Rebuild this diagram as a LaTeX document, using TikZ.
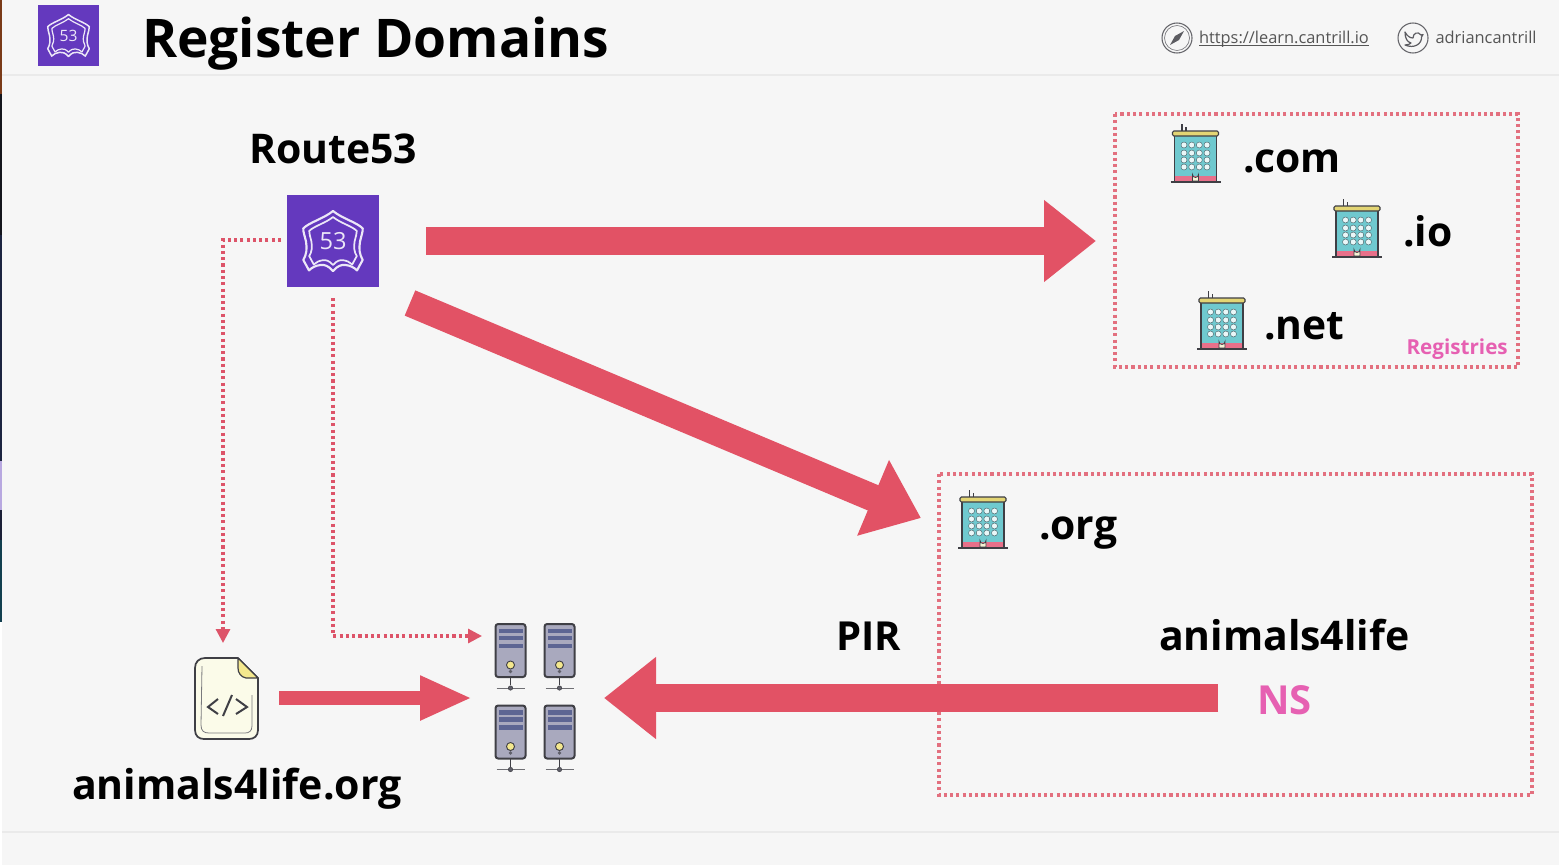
\documentclass[tikz,border=0pt]{standalone}
\usepackage{fontspec}
\setmainfont{Open Sans}
\usetikzlibrary{arrows.meta}
\definecolor{pagebg}{HTML}{F6F6F6}
\definecolor{rulec}{HTML}{EAEAEA}
\definecolor{awspurple}{HTML}{6439BE}
\definecolor{flow}{HTML}{E25265}
\definecolor{dots}{HTML}{DD5469}
\definecolor{boxdots}{HTML}{E3707F}
\definecolor{pinktext}{HTML}{E660B2}
\definecolor{ink}{HTML}{3F3F45}
\definecolor{tealb}{HTML}{6FC9CF}
\definecolor{roofc}{HTML}{E3D574}
\definecolor{bandc}{HTML}{E8708A}
\definecolor{srv}{HTML}{A9A9BE}
\definecolor{slotc}{HTML}{5D6593}
\definecolor{paper}{HTML}{FBFBE9}
\definecolor{foldc}{HTML}{F4E88E}
\definecolor{greytext}{HTML}{555555}
\definecolor{stripa}{HTML}{7A3A18}
\definecolor{stripb}{HTML}{14151C}
\definecolor{stripc}{HTML}{1C2440}
\definecolor{stripd}{HTML}{B8A8E0}
\definecolor{stripe}{HTML}{1B1F36}
\definecolor{stripf}{HTML}{123F4F}
\tikzset{
  lab/.style={anchor=base west,inner sep=0pt,outer sep=0pt,font=\fontsize{#1}{#1}\selectfont\bfseries,text=black},
  lab/.default=30,
  thin text/.style={anchor=base west,inner sep=0pt,outer sep=0pt,font=\fontsize{12.3}{12.3}\selectfont,text=greytext},
  bigflow/.style={draw=flow,line width=20.5pt,-{Triangle[length=39pt,width=59pt]}},
  smallflow/.style={draw=flow,line width=11pt,-{Triangle[length=39pt,width=31pt]}},
  dotline/.style={draw=dots,line width=2.3pt,dash pattern=on 2.3pt off 2.4pt},
  boxline/.style={draw=boxdots,line width=2.3pt,dash pattern=on 2.3pt off 2.4pt},
  dotflow/.style={dotline,-{Triangle[length=10.5pt,width=10.5pt,sep=0pt]}},
  regionbox/.style={inner sep=0pt,outer sep=0pt,anchor=north west},
  awsbox/.style={fill=awspurple,inner sep=0pt,outer sep=0pt,anchor=north west},
  bldg/.style={draw=ink,line width=0.9pt},
}
\newcommand{\ShieldIcon}[4]{%
 \begin{scope}[shift={(#1,#2)},x={#3*0.75pt},y={-#3*0.75pt}]
  \foreach \k/\w in {1/1.6,0.8/1.3}{
  \draw[white!88!awspurple,line width={\w*#3/30*1pt},line join=round,scale=\k]
   (0,1) .. controls (-.15,.82) and (-.3,.78) .. (-.42,.8)
   .. controls (-.58,.82) and (-.7,.88) .. (-.8,.98)
   -- (-.99,.63) .. controls (-.88,.45) and (-.86,.25) .. (-.9,.02)
   .. controls (-.95,-.2) and (-1,-.32) .. (-.99,-.42)
   .. controls (-.8,-.62) and (-.3,-.75) .. (0,-1)
   .. controls (.3,-.75) and (.8,-.62) .. (.99,-.42)
   .. controls (1,-.32) and (.95,-.2) .. (.9,.02)
   .. controls (.86,.25) and (.88,.45) .. (.99,.63)
   -- (.8,.98) .. controls (.7,.88) and (.58,.82) .. (.42,.8)
   .. controls (.3,.78) and (.15,.82) .. (0,1) -- cycle;}
  \node[text=white!88!awspurple,inner sep=0pt,font=\fontsize{#4}{#4}\selectfont] at (0,0) {53};
 \end{scope}}
\newcommand{\BuildingIcon}[2]{%
 \begin{scope}[shift={(#1,#2)}]
  \draw[ink,line width=0.9pt] (-13.5,0) -- (-13.5,-7) (-9.5,0) -- (-9.5,-4);
  \fill[tealb] (-21,5) rectangle (21,45);
  \fill[bandc] (-21,45) rectangle (21,50);
  \draw[bldg] (-21,5) -- (-21,50) (21,5) -- (21,50);
  \foreach \wx in {-11.5,-3.8,3.8,11.5}\foreach \wy in {14,22,29,36}
    \fill[white!85!tealb,draw=ink!70!tealb,line width=0.35pt] (\wx,\wy) circle (3);
  \fill[white!70!roofc,draw=ink,line width=0.6pt] (-3,50) -- (-3,43.5) arc (180:0:3) -- (3,50) -- cycle;
  \fill[roofc,draw=ink,line width=0.8pt,rounded corners=1pt] (-23,0) rectangle (23,5);
  \draw[ink,line width=1pt] (-25,51) -- (25,51);
 \end{scope}}
\newcommand{\ServerIcon}[2]{%
 \begin{scope}[shift={(#1,#2)}]
  \fill[srv,draw=ink,line width=1.5pt,rounded corners=2pt] (-15,0) rectangle (15,53);
  \foreach \sy in {7,14,22}
   \fill[slotc] (-12,\sy-2.2) rectangle (12,\sy+2.2);
  \fill[foldc,draw=ink,line width=0.7pt] (0,41) circle (4);
  \fill[ink!70!srv] (0,47.5) circle (1.8);
  \draw[ink,line width=0.7pt] (0,53) -- (0,61);
  \draw[ink!75,line width=0.7pt] (-14,64) -- (14,64);
  \fill[ink!70!srv,draw=ink,line width=0.4pt] (0,64) circle (2.2);
 \end{scope}}
\begin{document}
\begin{tikzpicture}[x=0.75pt,y=-0.75pt]
\useasboundingbox (0,0) rectangle (1559,865);
\fill[pagebg] (0,0) rectangle (1559,865);
% window edge behind the slide
\fill[stripa] (0,0) rectangle (2,94);
\fill[stripb] (0,94) rectangle (2,235);
\fill[stripc] (0,235) rectangle (2,461);
\fill[stripd] (0,461) rectangle (2,510);
\fill[stripe] (0,510) rectangle (2,540);
\fill[stripf] (0,540) rectangle (2,622);
\fill[white] (0,622) rectangle (2,865);
% header and footer rules
\draw[rulec,line width=1pt] (2,75) -- (1559,75);
\draw[rulec,line width=1pt] (2,832) -- (1559,832);
% header
\node[awsbox,minimum width=46pt,minimum height=46pt] (hdricon) at (38,5) {};
\ShieldIcon{68.5}{35.5}{21}{11.7}
\node[lab=40] (title) at (142,57.5) {Register Domains};
\draw[ink!80,line width=0.8pt] (1177,38) circle (15);
\draw[ink!70,line width=0.5pt] (1177,38) circle (12.5);
\fill[ink!85] (1184,31) -- (1179,40) -- (1170,45) -- (1175,36) -- cycle;
\node[thin text,text=greytext] (site) at (1199,43.5) {\underline{\smash{https://learn.cantrill.io}}};
\draw[ink!80,line width=0.8pt] (1413,38) circle (15);
\draw[ink!85,line width=0.9pt,line join=round] (1405,32) .. controls (1407,36) and (1410,38) .. (1413,38) .. controls (1413,33) and (1418,31) .. (1421,35) -- (1423,34.5) -- (1421.5,37) .. controls (1422,44) and (1414,49) .. (1405,45) .. controls (1408,45) and (1410,44) .. (1411,43) .. controls (1407,42) and (1405,38) .. (1405,32) -- cycle;
\node[thin text] (handle) at (1435.5,43.5) {adriancantrill};
% route 53
\node[lab=30.7] (r53label) at (249,163) {Route53};
\node[awsbox,minimum width=69pt,minimum height=69pt] (r53) at (287,195) {};
\ShieldIcon{333}{241}{30}{17.7}
% registries
\node[regionbox,minimum width=302.25pt,minimum height=189.75pt] (registries) at (1115,114) {};
\draw[boxline] (registries.north west) rectangle (registries.south east);
\BuildingIcon{1195.5}{131}
\node[lab=30.6] (com) at (1243,172) {.com};
\BuildingIcon{1357}{206}
\node[lab=30.6] (io) at (1403,246) {.io};
\BuildingIcon{1222}{298}
\node[lab=30.6] (net) at (1264,339) {.net};
\node[lab=15.5,text=pinktext] (reglabel) at (1406.5,354) {Registries};
% .org
\node[regionbox,minimum width=444.75pt,minimum height=240.75pt] (orgbox) at (939,474) {};
\draw[boxline] (orgbox.north west) rectangle (orgbox.south east);
\BuildingIcon{983}{497}
\node[lab=30.6] (org) at (1039,539) {.org};
\node[lab=30] (pir) at (836,650) {PIR};
\node[lab=30.7] (a4l) at (1159,650) {animals4life};
\node[lab=30] (ns) at (1257,714) [text=pinktext] {NS};
% zone file
\filldraw[fill=paper,draw=ink,line width=1.3pt,line join=round] (205,658) -- (238,658) -- (258,678) -- (258,730) .. controls (258,736) and (254,739) .. (249,739) -- (204,739) .. controls (199,739) and (195,736) .. (195,730) -- (195,668) .. controls (195,662) and (199,658) .. (205,658) -- cycle;
\filldraw[fill=foldc,draw=ink,line width=0.9pt,line join=round] (238,658) -- (258,678) -- (246,678) .. controls (241,677) and (238,673) .. (238,668) -- cycle;
\draw[ink!70,line width=0.6pt] (202,666) -- (201,725) .. controls (201,731) and (204,733) .. (209,733) -- (245,733) .. controls (249,733) and (252,731) .. (252,726) -- (252,695);
\draw[ink,line width=1.5pt] (218,699) -- (208,707) -- (218,714) (232,695) -- (223,716) (236,699) -- (247,707) -- (236,714);
\node[lab=30.8] (filelabel) at (72,799) {animals4life.org};
% servers
\ServerIcon{510.5}{624}
\ServerIcon{559.5}{624}
\ServerIcon{510.5}{705.5}
\ServerIcon{559.5}{705.5}
% connector ends
\coordinate (a1s) at (426,241);
\coordinate (a1e) at (1096,241);
\coordinate (a2s) at (410,303);
\coordinate (a2e) at (921,518);
\coordinate (a3s) at (279,698);
\coordinate (a3e) at (472,698);
\coordinate (a4s) at (1218,698);
\coordinate (a4e) at (604,698);
\coordinate (d1s) at (281,240);
\coordinate (d1m) at (223,240);
\coordinate (d1e) at (223,643);
\coordinate (d2s) at (333,298);
\coordinate (d2m) at (333,636);
\coordinate (d2e) at (482,636);
\draw[bigflow] (a1s) -- (a1e);
\draw[bigflow] (a2s) -- (a2e);
\draw[smallflow] (a3s) -- (a3e);
\draw[bigflow] (a4s) -- (a4e);
\draw[dotflow] (d1s) -- (d1m) -- (d1e);
\draw[dotflow] (d2s) -- (d2m) -- (d2e);
\end{tikzpicture}
\end{document}
